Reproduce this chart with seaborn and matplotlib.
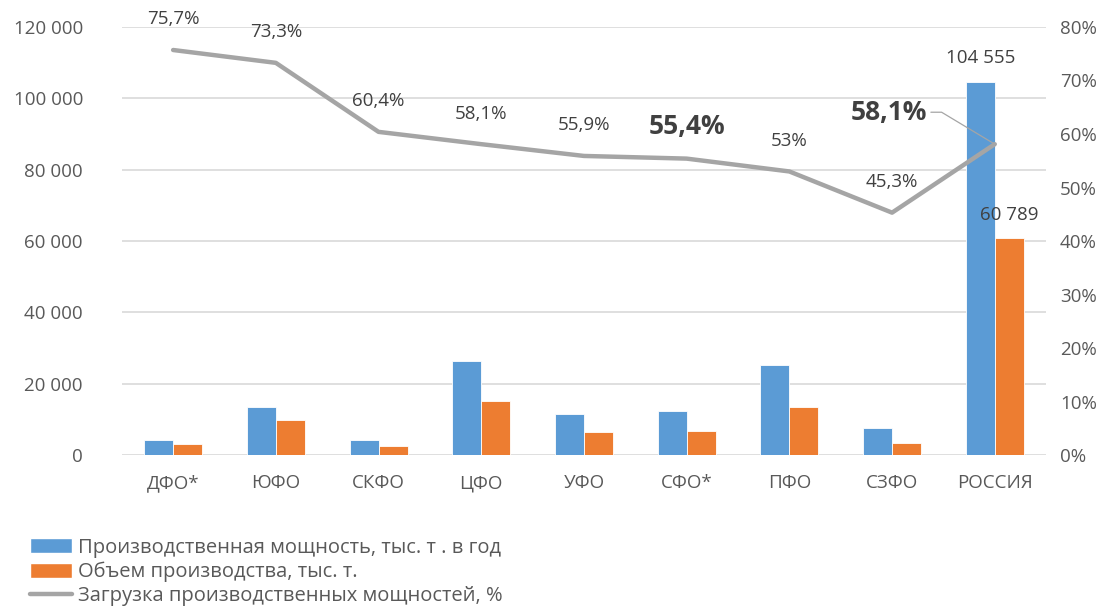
import matplotlib
matplotlib.use("Agg")
import matplotlib.pyplot as plt
from matplotlib.lines import Line2D
from matplotlib.patches import Patch
from matplotlib.ticker import FuncFormatter, MultipleLocator
import pandas as pd
import seaborn as sns

# data
regions = ["ДФО*", "ЮФО", "СКФО", "ЦФО", "УФО", "СФО*", "ПФО", "СЗФО", "РОССИЯ"]
capacity = [4200, 13400, 4200, 26300, 11500, 12300, 25200, 7600, 104555]
output = [3100, 9800, 2500, 15200, 6450, 6800, 13400, 3450, 60789]
load_pct = [75.7, 73.3, 60.4, 58.1, 55.9, 55.4, 53.0, 45.3, 58.1]
load_labels = ["75,7%", "73,3%", "60,4%", "58,1%", "55,9%", "55,4%", "53%", "45,3%", "58,1%"]

series_names = ["Производственная мощность, тыс. т . в год", "Объем производства, тыс. т."]
line_name = "Загрузка производственных мощностей, %"

BLUE = "#5b9bd5"
ORANGE = "#ed7d31"
GRAY = "#a5a5a5"
TEXT = "#595959"
DARK = "#404040"
FS = 13.5

sns.set_theme(style="white")
plt.rcParams["font.family"] = ["Open Sans", "DejaVu Sans"]

bars = pd.DataFrame({
    "region": regions * 2,
    "value": capacity + output,
    "series": [series_names[0]] * len(regions) + [series_names[1]] * len(regions),
})
line = pd.DataFrame({"region": regions, "load": load_pct})

fig = plt.figure(figsize=(11.07, 6.08), dpi=100)
ax = fig.add_axes([0.110, 0.2516, 0.835, 0.704])

sns.barplot(
    data=bars, x="region", y="value", hue="series", order=regions,
    palette=[BLUE, ORANGE], saturation=1, width=0.565, gap=0,
    edgecolor="white", linewidth=0.6, legend=False, ax=ax,
)
ax.set_xlim(-0.5, len(regions) - 0.5)
ax.set_ylim(0, 120000)
ax.yaxis.set_major_locator(MultipleLocator(20000))
ax.yaxis.set_major_formatter(FuncFormatter(lambda v, _: f"{int(v):,}".replace(",", " ")))
ax.grid(axis="y", color="#d9d9d9", linewidth=1.2)
ax.set_axisbelow(True)
for s in ax.spines.values():
    s.set_visible(False)
ax.set_xlabel("")
ax.set_ylabel("")
ax.tick_params(axis="y", length=0, labelsize=FS, colors=TEXT, pad=28)
ax.tick_params(axis="x", length=0, labelsize=FS, colors=TEXT, pad=14)

# value labels on the Russia bars only
last = len(regions) - 1
ax.annotate("104 555", (last - 0.1413, capacity[-1]), xytext=(0, 17), textcoords="offset points",
            ha="center", va="center", fontsize=FS, color=DARK)
ax.annotate("60 789", (last + 0.1413, output[-1]), xytext=(0, 17), textcoords="offset points",
            ha="center", va="center", fontsize=FS, color=DARK)

ax2 = ax.twinx()
sns.lineplot(data=line, x="region", y="load", color=GRAY, linewidth=3.2, ax=ax2, sort=False)
ax2.set_ylim(0, 80)
ax2.yaxis.set_major_locator(MultipleLocator(10))
ax2.yaxis.set_major_formatter(FuncFormatter(lambda v, _: f"{int(v)}%"))
for s in ax2.spines.values():
    s.set_visible(False)
ax2.set_ylabel("")
ax2.tick_params(axis="y", length=0, labelsize=FS, colors=TEXT, pad=10)

for i, (val, lab) in enumerate(zip(load_pct, load_labels)):
    if i == 5:
        ax2.annotate(lab, (i, val), xytext=(0, 23), textcoords="offset points",
                     ha="center", va="center", fontsize=19, fontweight="bold", color=DARK)
    elif i == last:
        ax2.annotate(lab, (i, val), xytext=(-76, 23), textcoords="offset points",
                     ha="center", va="center", fontsize=19, fontweight="bold", color=DARK)
        ax2.annotate("", xy=(i, val), xytext=(-46, 23), textcoords="offset points",
                     arrowprops=dict(arrowstyle="-", color=GRAY, lw=0.9, shrinkA=0, shrinkB=0,
                                     connectionstyle="angle,angleA=0,angleB=-31,rad=0"))
    else:
        ax2.annotate(lab, (i, val), xytext=(0, 22), textcoords="offset points",
                     ha="center", va="center", fontsize=FS, color=DARK)

handles = [
    Patch(facecolor=BLUE, label=series_names[0]),
    Patch(facecolor=ORANGE, label=series_names[1]),
    Line2D([0], [0], color=GRAY, linewidth=3.2, solid_capstyle="round", label=line_name),
]
fig.legend(handles=handles, loc="upper left", bbox_to_anchor=(0.027, 0.1155), frameon=False,
           fontsize=14.5, labelcolor=TEXT, handlelength=2.1, handleheight=0.75,
           handletextpad=0.3, labelspacing=0.2, borderaxespad=0, borderpad=0)

fig.savefig("out.png", dpi=100)
